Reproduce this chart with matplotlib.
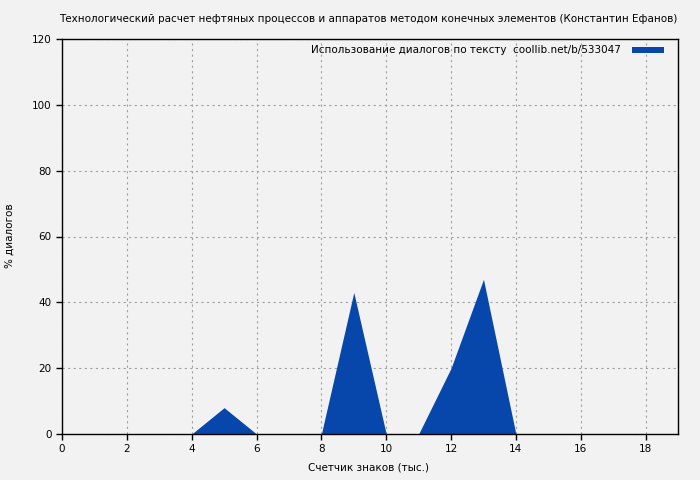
import matplotlib
matplotlib.use("Agg")
import matplotlib.pyplot as plt
from matplotlib.patches import Rectangle

x = [0, 1, 2, 3, 4, 5, 6, 7, 8, 9, 10, 11, 12, 13, 14, 15, 16, 17, 18, 19]
y = [0, 0, 0, 0, 0, 8, 0, 0, 0, 43, 0, 0, 20, 47, 0, 0, 0, 0, 0, 0]
xticks = [0, 2, 4, 6, 8, 10, 12, 14, 16, 18]
yticks = [0, 20, 40, 60, 80, 100, 120]

title = "Технологический расчет нефтяных процессов и аппаратов методом конечных элементов (Константин Ефанов)"
legend_label = "Использование диалогов по тексту  coollib.net/b/533047"
xlabel = "Счетчик знаков (тыс.)"
ylabel = "% диалогов"

bg = "#f2f2f2"
blue = "#0746ab"
W, H = 700, 480

plt.rcParams['font.family'] = ['DejaVu Sans']
fig = plt.figure(figsize=(7, 4.8), dpi=100, facecolor=bg)
ax = fig.add_axes([62/W, 1-434/H, (678-62)/W, (434-39)/H], facecolor=bg)

ax.fill_between(x, y, 0, color=blue, linewidth=0)
ax.set_xlim(0, 19)
ax.set_ylim(0, 120)
ax.set_xticks(xticks)
ax.set_yticks(yticks)
ax.tick_params(direction='out', length=4, width=1, labelsize=7.5, color='black')
ax.grid(True, color='#a0a0a0', linestyle=(0, (2, 3)), linewidth=0.8)
ax.set_axisbelow(True)
for s in ax.spines.values():
    s.set_linewidth(1)
    s.set_color('black')

fig.text(368/W, 1-19/H, title, ha='center', va='center', fontsize=7.45)
fig.text(368/W, 1-468/H, xlabel, ha='center', va='center', fontsize=7.5)
fig.text(10/W, 1-236/H, ylabel, ha='center', va='center', fontsize=7.5, rotation=90)

fig.text(621/W, 1-50/H, legend_label, ha='right', va='center', fontsize=7.5)
fig.patches.append(Rectangle((632/W, 1-53/H), 32/W, 6/H, transform=fig.transFigure,
                             facecolor=blue, edgecolor='none'))

fig.savefig("out.png", dpi=100, facecolor=bg)
